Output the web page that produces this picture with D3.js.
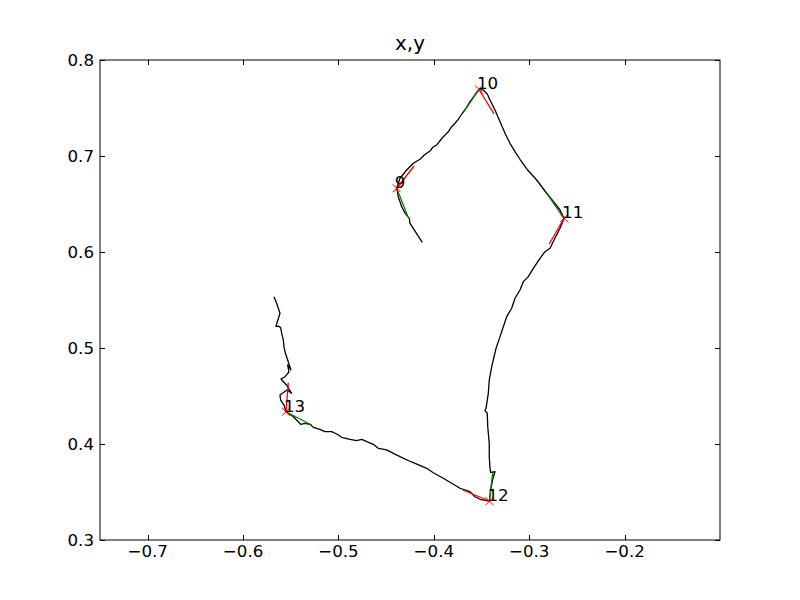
<!DOCTYPE html>
<html>
<head>
<meta charset="utf-8">
<script src="https://cdn.jsdelivr.net/npm/d3@7"></script>
<style>
  html, body { margin: 0; padding: 0; background: #fff; }
  svg { display: block; }
  text { font-family: "DejaVu Sans", sans-serif; }
</style>
</head>
<body>
<svg id="chart" width="800" height="600"></svg>
<script>
// ---- data ----
const titleText = "x,y";
const xTicks = [-0.7, -0.6, -0.5, -0.4, -0.3, -0.2];
const yTicks = [0.3, 0.4, 0.5, 0.6, 0.7, 0.8];
const xDomain = [-0.75, -0.1];
const yDomain = [0.3, 0.8];

// trajectory
const pathX = [-0.4121,-0.4250,-0.4257,-0.4302,-0.4337,-0.4373,-0.4389,-0.4355,-0.4285,-0.4215,
  -0.4145,-0.4100,-0.4075,-0.4040,-0.4012,-0.3970,-0.3935,-0.3901,-0.3848,-0.3813,
  -0.3778,-0.3744,-0.3726,-0.3697,-0.3656,-0.3621,-0.3568,-0.3527,-0.3482,-0.3440,
  -0.3411,-0.3359,-0.3306,-0.3254,-0.3202,-0.3149,-0.3097,-0.3016,-0.2922,-0.2817,
  -0.2730,-0.2677,-0.2635,-0.2677,-0.2730,-0.2782,-0.2835,-0.2887,-0.2957,-0.3010,
  -0.3062,-0.3097,-0.3149,-0.3184,-0.3236,-0.3272,-0.3306,-0.3348,-0.3369,-0.3393,
  -0.3419,-0.3429,-0.3453,-0.3464,-0.3440,-0.3435,-0.3419,-0.3419,-0.3411,-0.3404,
  -0.3359,-0.3383,-0.3404,-0.3419,-0.3516,-0.3568,-0.3621,-0.3726,-0.3813,-0.3901,
  -0.4006,-0.4075,-0.4215,-0.4257,-0.4355,-0.4425,-0.4494,-0.4582,-0.4635,-0.4704,
  -0.4756,-0.4809,-0.4879,-0.4966,-0.5018,-0.5071,-0.5141,-0.5194,-0.5264,-0.5298,
  -0.5351,-0.5396,-0.5421,-0.5473,-0.5550,-0.5571,-0.5606,-0.5613,-0.5539,-0.5492,
  -0.5545,-0.5585,-0.5602,-0.5560,-0.5519,-0.5533,-0.5498,-0.5560,-0.5571,-0.5578,
  -0.5595,-0.5606,-0.5631,-0.5655,-0.5641,-0.5613,-0.5648,-0.5676];
const pathY = [0.6101,0.6299,0.6351,0.6403,0.6472,0.6576,0.6664,0.6768,0.6854,0.6924,
  0.6966,0.7010,0.7028,0.7052,0.7091,0.7115,0.7159,0.7201,0.7253,0.7305,
  0.7341,0.7382,0.7409,0.7451,0.7507,0.7566,0.7636,0.7688,0.7688,0.7646,
  0.7583,0.7479,0.7357,0.7237,0.7132,0.7045,0.6966,0.6854,0.6750,0.6612,
  0.6507,0.6438,0.6351,0.6247,0.6143,0.6039,0.6003,0.5934,0.5830,0.5743,
  0.5691,0.5604,0.5518,0.5414,0.5326,0.5222,0.5118,0.4997,0.4909,0.4805,
  0.4667,0.4528,0.4372,0.4347,0.4320,0.4180,0.4007,0.3868,0.3747,0.3705,
  0.3711,0.3632,0.3521,0.3406,0.3424,0.3451,0.3503,0.3539,0.3591,0.3643,
  0.3701,0.3747,0.3805,0.3823,0.3868,0.3903,0.3938,0.3955,0.3997,0.4024,
  0.4049,0.4034,0.4049,0.4070,0.4104,0.4128,0.4128,0.4153,0.4174,0.4205,
  0.4216,0.4205,0.4232,0.4284,0.4336,0.4406,0.4458,0.4510,0.4563,0.4528,
  0.4615,0.4656,0.4677,0.4701,0.4750,0.4823,0.4771,0.4958,0.5014,0.5083,
  0.5153,0.5212,0.5229,0.5222,0.5274,0.5362,0.5466,0.5534];

// key points with labels and direction segments
const keyLabels = ["9", "10", "11", "12", "13"];
const keyX = [-0.4389, -0.3527, -0.2635, -0.3417, -0.5550];
const keyY = [0.6664, 0.7693, 0.6351, 0.3406, 0.4336];
const redEndX = [-0.4208, -0.3369, -0.2790, -0.3697, -0.5526];
const redEndY = [0.6896, 0.7438, 0.6083, 0.3521, 0.4639];
const greenEndX = [-0.4271, -0.3694, -0.2806, -0.3383, -0.5281];
const greenEndY = [0.6365, 0.7448, 0.6594, 0.3701, 0.4198];

// ---- drawing ----
const svg = d3.select("#chart");
const m = { left: 100, right: 80, top: 60, bottom: 60 };
const W = 800, H = 600;
const x = d3.scaleLinear().domain(xDomain).range([m.left, W - m.right]);
const y = d3.scaleLinear().domain(yDomain).range([H - m.bottom, m.top]);

const fontPx = 16.67;
const tickLen = 5;

// clip
svg.append("defs").append("clipPath").attr("id", "clip")
  .append("rect").attr("x", m.left).attr("y", m.top)
  .attr("width", W - m.left - m.right).attr("height", H - m.top - m.bottom);

const plot = svg.append("g").attr("clip-path", "url(#clip)");

const pts = pathX.map((v, i) => [v, pathY[i]]);
const line = d3.line().x(d => x(d[0])).y(d => y(d[1]));
plot.append("path").datum(pts).attr("d", line)
  .attr("fill", "none").attr("stroke", "#000").attr("stroke-width", 1.3)
  .attr("stroke-linejoin", "round");

keyLabels.forEach((lab, i) => {
  plot.append("line")
    .attr("x1", x(keyX[i])).attr("y1", y(keyY[i]))
    .attr("x2", x(greenEndX[i])).attr("y2", y(greenEndY[i]))
    .attr("stroke", "#008000").attr("stroke-width", 1.3);
});
keyLabels.forEach((lab, i) => {
  plot.append("line")
    .attr("x1", x(keyX[i])).attr("y1", y(keyY[i]))
    .attr("x2", x(redEndX[i])).attr("y2", y(redEndY[i]))
    .attr("stroke", "#ff0000").attr("stroke-width", 1.3);
});
// x markers
const ms = 4;
keyLabels.forEach((lab, i) => {
  const cx = x(keyX[i]), cy = y(keyY[i]);
  plot.append("path")
    .attr("d", `M${cx - ms},${cy - ms}L${cx + ms},${cy + ms}M${cx - ms},${cy + ms}L${cx + ms},${cy - ms}`)
    .attr("stroke", "#ff0000").attr("stroke-width", 1).attr("fill", "none");
});
// labels
keyLabels.forEach((lab, i) => {
  svg.append("text").attr("x", x(keyX[i]) - 2).attr("y", y(keyY[i]))
    .attr("font-size", fontPx).attr("fill", "#000").text(lab);
});

// frame
svg.append("rect").attr("x", m.left).attr("y", m.top)
  .attr("width", W - m.left - m.right).attr("height", H - m.top - m.bottom)
  .attr("fill", "none").attr("stroke", "#000").attr("stroke-width", 1);

// ticks (inside, all four sides)
const tg = svg.append("g").attr("stroke", "#000").attr("stroke-width", 1);
xTicks.forEach(t => {
  const px = Math.round(x(t)) + 0.5;
  tg.append("line").attr("x1", px).attr("x2", px).attr("y1", H - m.bottom).attr("y2", H - m.bottom - tickLen);
  tg.append("line").attr("x1", px).attr("x2", px).attr("y1", m.top).attr("y2", m.top + tickLen);
});
yTicks.forEach(t => {
  const py = Math.round(y(t)) + 0.5;
  tg.append("line").attr("y1", py).attr("y2", py).attr("x1", m.left).attr("x2", m.left + tickLen);
  tg.append("line").attr("y1", py).attr("y2", py).attr("x1", W - m.right).attr("x2", W - m.right - tickLen);
});

const fmt = v => (v < 0 ? "\u2212" : "") + Math.abs(v).toFixed(1);
svg.append("g").selectAll("text").data(xTicks).join("text")
  .attr("x", d => x(d)).attr("y", H - m.bottom + 17)
  .attr("text-anchor", "middle").attr("font-size", fontPx).text(fmt);
svg.append("g").selectAll("text").data(yTicks).join("text")
  .attr("x", m.left - 6).attr("y", d => y(d) + 6)
  .attr("text-anchor", "end").attr("font-size", fontPx).text(fmt);

svg.append("text").attr("x", (m.left + W - m.right) / 2).attr("y", 50)
  .attr("text-anchor", "middle").attr("font-size", 20).text(titleText);
</script>
</body>
</html>
